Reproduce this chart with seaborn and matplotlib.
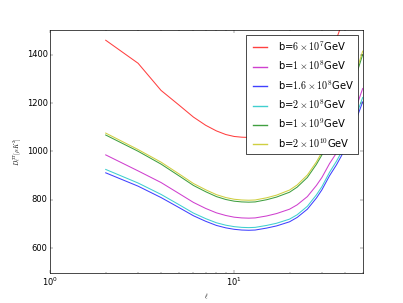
import pandas as pd
import seaborn as sns
import matplotlib
matplotlib.use('Agg')
import matplotlib.pyplot as plt

# multipoles and D_l^TT values (muK^2)
ell = [2, 3, 4, 5, 6, 7, 8, 9, 10, 11, 12, 13, 15, 17, 20, 22, 25, 28, 30, 33, 36, 40, 45, 50]
d_6e7 = [1459, 1364, 1252, 1192, 1142, 1108, 1085, 1070, 1062, 1059, 1058, 1060, 1070, 1085,
         1110, 1138, 1190, 1262, 1310, 1395, 1465, 1560, 1720, 1870]
d_1e8 = [986, 920, 872, 827, 790, 765, 747, 736, 729, 726, 725, 726, 734, 744,
         762, 780, 814, 860, 893, 950, 994, 1055, 1160, 1260]
d_16e8 = [912, 857, 810, 769, 735, 712, 695, 685, 679, 676, 675, 676, 684, 693,
          710, 728, 762, 808, 842, 900, 945, 1008, 1110, 1205]
d_2e8 = [926, 870, 823, 781, 746, 723, 706, 696, 690, 687, 686, 687, 695, 704,
         721, 739, 774, 821, 855, 914, 960, 1023, 1127, 1223]
d_1e9 = [1068, 1001, 948, 900, 860, 834, 814, 802, 795, 792, 791, 792, 801, 812,
         832, 853, 893, 947, 986, 1050, 1100, 1172, 1290, 1400]
d_2e10 = [1076, 1008, 956, 908, 868, 842, 822, 810, 803, 800, 799, 800, 809, 820,
          841, 862, 903, 957, 997, 1062, 1113, 1186, 1305, 1414]

labels = [r'b=$6\times10^7$GeV', r'b=$1\times10^8$GeV', r'b=$1.6\times10^8$GeV',
          r'b=$2\times10^8$GeV', r'b=$1\times10^9$GeV', r'b=$2\times10^{10}$GeV']
series = [d_6e7, d_1e8, d_16e8, d_2e8, d_1e9, d_2e10]
colors = ['#ff0000', '#bf00bf', '#0000ff', '#00bfbf', '#008000', '#bfbf00']

plt.style.use('classic')
fig, ax = plt.subplots(figsize=(8.06, 6.06), dpi=50)

handles = []
for vals, c in zip(series, colors):
    df = pd.DataFrame({'ell': ell, 'D': vals})
    sns.lineplot(data=df, x='ell', y='D', color=c, alpha=0.75, linewidth=1.5,
                 errorbar=None, legend=False, ax=ax)
    handles.append(plt.Line2D([], [], color=c, alpha=0.75, linewidth=2))

ax.set_xscale('log')
ax.set_xlim(1, 50)
ax.set_ylim(500, 1500)
ax.set_yticks([600, 800, 1000, 1200, 1400])
ax.set_xlabel(r'$\ell$', fontsize=9)
ax.set_ylabel(r'$D_\ell^{TT}[\mu K^2]$', fontsize=9)
ax.legend(handles, labels, loc='upper right', labelspacing=0.6)

fig.savefig('out.png', dpi=50)
